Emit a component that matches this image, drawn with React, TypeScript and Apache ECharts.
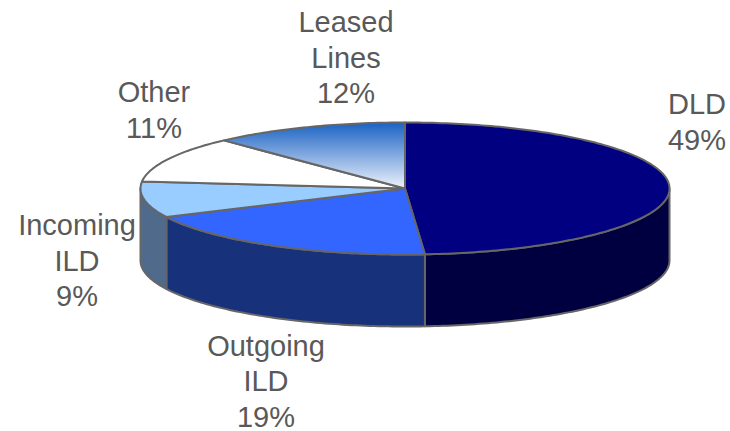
import React, { useEffect, useRef } from "react";
import * as echarts from "echarts";

const categories = ["DLD", "Outgoing\nILD", "Incoming\nILD", "Other", "Leased\nLines"];
const shares = [48.8, 19.1, 8.8, 11.3, 12.0];
const topColors = ["#000080", "#3366ff", "#99ccff", "#ffffff", "#1a62c4"];
const sideColors = ["#000040", "#17317a", "#4f6a8a", "#808080", "#0d3162"];
const labelCenters = [
  [697, 122],
  [266, 381],
  [77, 260.5],
  [154, 110],
  [346, 57.5],
];

const CX = 405;
const CY = 188.5;
const RX = 264.5;
const RY = 66;
const DEPTH = 72;
const EDGE = "#666666";
const LINE_GAP = 35.5;
const total = shares.reduce((a, b) => a + b, 0);

function rim(deg: number, dy = 0): number[] {
  const r = (deg * Math.PI) / 180;
  return [CX + RX * Math.sin(r), CY - RY * Math.cos(r) + dy];
}

function arc(a: number, b: number, dy = 0): number[][] {
  const n = Math.max(2, Math.ceil(Math.abs(b - a)));
  const pts: number[][] = [];
  for (let i = 0; i <= n; i++) pts.push(rim(a + ((b - a) * i) / n, dy));
  return pts;
}

function renderSlice(params: any, api: any) {
  const i = params.dataIndex;
  const before = shares.slice(0, i).reduce((x, y) => x + y, 0);
  const a = (before / total) * 360;
  const b = a + ((api.value(0) as number) / total) * 360;
  const children: any[] = [];
  const sa = Math.max(a, 90);
  const sb = Math.min(b, 270);
  if (sb > sa) {
    children.push({
      type: "polygon",
      shape: { points: [...arc(sa, sb), ...arc(sb, sa, DEPTH)] },
      style: { fill: sideColors[i], stroke: EDGE, lineWidth: 2, lineJoin: "round" },
    });
  }
  const fill =
    i === 4
      ? new echarts.graphic.LinearGradient(0, 0, 0, 1, [
          { offset: 0, color: "#1a62c4" },
          { offset: 1, color: "#eef3fb" },
        ])
      : topColors[i];
  children.push({
    type: "polygon",
    shape: { points: [[CX, CY], ...arc(a, b)] },
    style: { fill, stroke: EDGE, lineWidth: 2, lineJoin: "round" },
  });
  const lines = `${categories[i]}\n${Math.round(api.value(0))}%`.split("\n");
  lines.forEach((line, k) => {
    children.push({
      type: "text",
      x: labelCenters[i][0],
      y: labelCenters[i][1] + (k - (lines.length - 1) / 2) * LINE_GAP,
      style: {
        text: line,
        fill: "#595959",
        font: '29px "Liberation Sans", Arial, sans-serif',
        align: "center",
        verticalAlign: "middle",
      },
    });
  });
  return { type: "group", children };
}

export default function App() {
  const ref = useRef<HTMLDivElement>(null);
  useEffect(() => {
    document.body.style.margin = "0";
    const chart = echarts.init(ref.current!, undefined, { renderer: "svg" });
    chart.setOption({
      animation: false,
      backgroundColor: "#ffffff",
      series: [
        {
          type: "custom",
          coordinateSystem: "none",
          renderItem: renderSlice,
          data: shares.map((v, i) => ({ name: categories[i], value: [v] })),
          silent: true,
        },
      ],
    });
    return () => chart.dispose();
  }, []);
  return <div ref={ref} style={{ width: 730, height: 431 }} />;
}
